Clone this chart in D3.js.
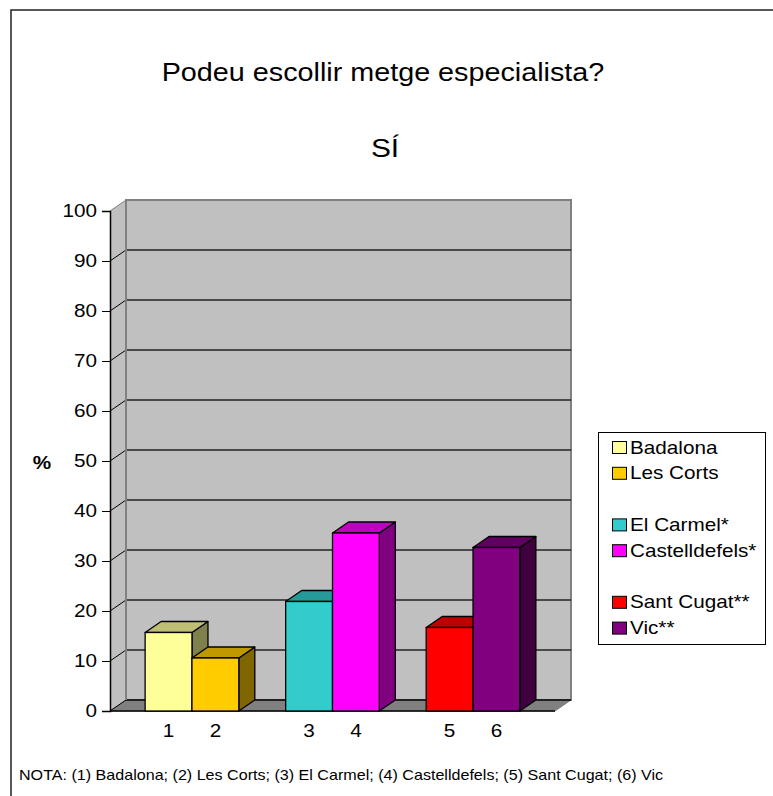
<!DOCTYPE html>
<html>
<head>
<meta charset="utf-8">
<script src="https://cdn.jsdelivr.net/npm/d3@7"></script>
<style>
  html, body { margin: 0; padding: 0; background: #fff; }
  svg { display: block; font-family: "Liberation Sans", Arial, Helvetica, sans-serif; }
</style>
</head>
<body>
<svg id="chart" width="773" height="796"></svg>
<script>
// ---- data ----
const title = "Podeu escollir metge especialista?";
const subtitle = "SÍ";
const yLabel = "%";
const barLabels = ["1", "2", "3", "4", "5", "6"];
const seriesNames = ["Badalona", "Les Corts", "El Carmel*", "Castelldefels*", "Sant Cugat**", "Vic**"];
const values = [15.7, 10.6, 21.9, 35.6, 16.7, 32.7];
const groupIndex = [0, 0, 1, 1, 2, 2];
const colors = ["#FFFF99", "#FFCC00", "#33CCCC", "#FF00FF", "#FF0000", "#800080"];
const yTicks = [0, 10, 20, 30, 40, 50, 60, 70, 80, 90, 100];
const note = "NOTA: (1) Badalona; (2) Les Corts; (3) El Carmel; (4) Castelldefels; (5) Sant Cugat; (6) Vic";

// ---- layout ----
const svg = d3.select("#chart");
const front = { x0: 110, x1: 555, yTop: 211, yBot: 711 };
const dx = 16, dy = -11;
const SX = 1.15; // horizontal text stretch seen in the original

const y = d3.scaleLinear().domain([0, 100]).range([front.yBot, front.yTop]);
const slots = values.map((v, i) => i + groupIndex[i]);
const x = d3.scaleBand().domain(d3.range(8)).range([front.x0, front.x1])
  .paddingInner(0).paddingOuter(0.75);

function shade(c, k) {
  const r = d3.rgb(c);
  return d3.rgb(Math.round(r.r * k), Math.round(r.g * k), Math.round(r.b * k)).formatHex();
}
function stretchedText(parent, tx, ty, str, size, anchor) {
  return parent.append("text")
    .attr("transform", `translate(${tx},${ty}) scale(${SX},1)`)
    .attr("text-anchor", anchor || "start")
    .attr("font-size", size).attr("fill", "#000").text(str);
}

// outer frame
svg.append("path").attr("d", "M11,800 L11,10 L780,10")
  .attr("fill", "none").attr("stroke", "#222").attr("stroke-width", 1.5);

// title
stretchedText(svg, 383, 81, title, 25, "middle");
stretchedText(svg, 385, 157, subtitle, 26, "middle");

// walls
const wallG = svg.append("g");
wallG.append("path")
  .attr("d", `M${front.x0},${front.yBot} L${front.x0},${front.yTop} L${front.x0 + dx},${front.yTop + dy} L${front.x0 + dx},${front.yBot + dy} Z`)
  .attr("fill", "#C0C0C0").attr("stroke", "none");
wallG.append("rect")
  .attr("x", front.x0 + dx).attr("y", front.yTop + dy)
  .attr("width", front.x1 - front.x0).attr("height", front.yBot - front.yTop)
  .attr("fill", "#C0C0C0").attr("stroke", "#808080").attr("stroke-width", 2);
wallG.append("path")
  .attr("d", `M${front.x0},${front.yBot} L${front.x1},${front.yBot} L${front.x1 + dx},${front.yBot + dy} L${front.x0 + dx},${front.yBot + dy} Z`)
  .attr("fill", "#808080").attr("stroke", "#808080").attr("stroke-width", 1);

yTicks.forEach(t => {
  const yy = y(t);
  if (t < 100) {
    wallG.append("line")
      .attr("x1", front.x0 + dx).attr("x2", front.x1 + dx)
      .attr("y1", yy + dy).attr("y2", yy + dy)
      .attr("stroke", t === 0 ? "#000" : "#222").attr("stroke-width", 1.3);
  }
  wallG.append("line")
    .attr("x1", front.x0).attr("y1", yy)
    .attr("x2", front.x0 + dx).attr("y2", yy + dy)
    .attr("stroke", t === 100 ? "#808080" : "#000").attr("stroke-width", 1);
});
wallG.append("line").attr("x1", front.x0 + dx).attr("x2", front.x0 + dx)
  .attr("y1", front.yTop + dy).attr("y2", front.yBot + dy)
  .attr("stroke", "#808080").attr("stroke-width", 2);

// y axis
const yAxis = d3.axisLeft(y).tickValues(yTicks).tickSize(8).tickPadding(5).tickFormat(d3.format("d"));
const yAxisG = svg.append("g").attr("transform", `translate(${front.x0},0)`).call(yAxis);
yAxisG.select(".domain").attr("stroke", "#000").attr("stroke-width", 1.5);
yAxisG.selectAll(".tick line").attr("stroke", "#000").attr("stroke-width", 1);
yAxisG.selectAll(".tick text").attr("font-size", 18).attr("fill", "#000")
  .attr("font-family", "Liberation Sans, Arial, sans-serif")
  .attr("x", -13 / SX).attr("transform", `scale(${SX},1)`);

// x axis baseline
svg.append("line").attr("x1", front.x0).attr("x2", front.x1)
  .attr("y1", front.yBot).attr("y2", front.yBot)
  .attr("stroke", "#000").attr("stroke-width", 1.5);

// bars
const barG = svg.append("g");
values.forEach((v, i) => {
  const x0 = x(slots[i]), w = x.bandwidth();
  const yt = y(v), yb = y(0);
  const c = colors[i];
  barG.append("path")
    .attr("d", `M${x0 + w},${yb} L${x0 + w},${yt} L${x0 + w + dx},${yt + dy} L${x0 + w + dx},${yb + dy} Z`)
    .attr("fill", shade(c, 0.5)).attr("stroke", "#000").attr("stroke-width", 1.3).attr("stroke-linejoin", "round");
  barG.append("path")
    .attr("d", `M${x0},${yt} L${x0 + w},${yt} L${x0 + w + dx},${yt + dy} L${x0 + dx},${yt + dy} Z`)
    .attr("fill", shade(c, 0.75)).attr("stroke", "#000").attr("stroke-width", 1.3).attr("stroke-linejoin", "round");
  barG.append("rect")
    .attr("x", x0).attr("y", yt).attr("width", w).attr("height", yb - yt)
    .attr("fill", c).attr("stroke", "#000").attr("stroke-width", 1.3);
  stretchedText(svg, x0 + w / 2, 737, barLabels[i], 18, "middle");
});

// y label
stretchedText(svg, 42, 469, yLabel, 18, "middle").attr("font-weight", "bold");

// legend
const legG = svg.append("g");
legG.append("rect").attr("x", 598.5).attr("y", 432.5).attr("width", 167).attr("height", 212)
  .attr("fill", "#fff").attr("stroke", "#000").attr("stroke-width", 1);
const rowOf = [0, 1, 3, 4, 6, 7];
seriesNames.forEach((name, i) => {
  const cy = 447 + rowOf[i] * 25.8;
  legG.append("rect").attr("x", 612.5).attr("y", cy - 5.5).attr("width", 14).attr("height", 12)
    .attr("fill", colors[i]).attr("stroke", "#000").attr("stroke-width", 1);
  stretchedText(legG, 630, cy + 6.5, name, 18, "start");
});

// note
stretchedText(svg, 19, 780, note, 14, "start");
</script>
</body>
</html>
